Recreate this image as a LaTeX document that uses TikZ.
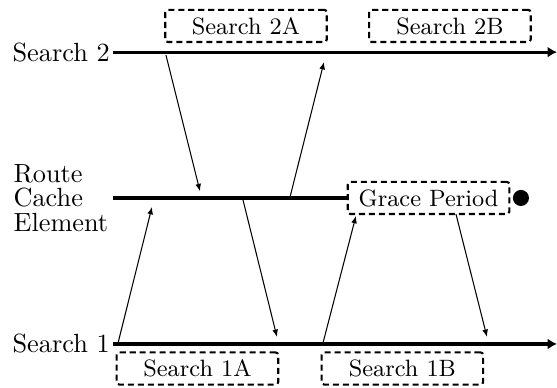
\documentclass[tikz,border=0pt]{standalone}
\usepackage{tikz}
\usetikzlibrary{arrows.meta,positioning,calc}
\tikzset{
  tllbl/.style    = {font=\fontsize{10}{9.3}\selectfont, inner sep=1pt, align=left},
  tlline/.style   = {draw=black, line width=1.2pt},
  tlarrow/.style  = {draw=black, line width=1.2pt, -{Latex[length=3.6pt,width=4.2pt]}},
  phasebox/.style = {rectangle, rounded corners=1pt, draw=black, line width=0.8pt,
                     dash pattern=on 2.3pt off 1.5pt, font=\small,
                     minimum width=2.16cm, minimum height=0.43cm, inner sep=1pt},
  msgflow/.style  = {draw=black, line width=0.4pt, -{Latex[length=2.8pt,width=2.2pt]}},
  expdot/.style   = {circle, fill=black, inner sep=0pt, minimum size=0.215cm},
}
\begin{document}
\begin{tikzpicture}
  \useasboundingbox (0,0) rectangle (7.447,5.187);

  % the three time lines
  \node[tllbl, anchor=east] (s2)  at (1.51,4.49) {Search 2};
  \node[tllbl, anchor=west] (rce) at (0.14,2.54) {Route\\Cache\\Element};
  \node[tllbl, anchor=east] (s1)  at (1.51,0.588) {Search 1};
  \coordinate (s2end) at (7.447,4.49);
  \coordinate (s1end) at (7.447,0.588);
  \coordinate (rcestart) at (1.51,2.54);

  \node[phasebox] (s2a)   at (3.289,4.84) {Search 2A};
  \node[phasebox] (s2b)   at (6.016,4.84) {Search 2B};
  \node[phasebox] (s1a)   at (2.640,0.26) {Search 1A};
  \node[phasebox] (s1b)   at (5.380,0.26) {Search 1B};
  \node[phasebox] (grace) at (5.730,2.54) {Grace Period};
  \node[expdot]   (dot)   at (6.965,2.54) {};

  \draw[tlarrow] (s2.east) -- (s2end);
  \draw[tlline]  (rcestart) -- (grace.west);
  \draw[tlarrow] (s1.east) -- (s1end);

  % lookups and replies
  \coordinate (a1) at (2.219,4.45);  \coordinate (b1) at (2.674,2.63);
  \coordinate (a2) at (3.877,2.55);  \coordinate (b2) at (4.332,4.358);
  \coordinate (a3) at (1.578,0.60);  \coordinate (b3) at (2.032,2.42);
  \coordinate (a4) at (3.249,2.513); \coordinate (b4) at (3.703,0.682);
  \coordinate (a5) at (4.318,0.60);  \coordinate (b5) at (4.759,2.30);
  \coordinate (a6) at (6.096,2.326); \coordinate (b6) at (6.511,0.682);

  \draw[msgflow] (a1) -- (b1);
  \draw[msgflow] (a2) -- (b2);
  \draw[msgflow] (a3) -- (b3);
  \draw[msgflow] (a4) -- (b4);
  \draw[msgflow] (a5) -- (b5);
  \draw[msgflow] (a6) -- (b6);
\end{tikzpicture}
\end{document}
